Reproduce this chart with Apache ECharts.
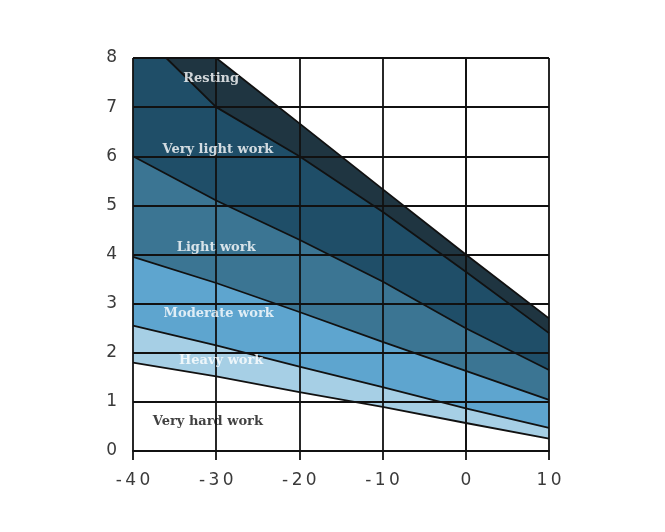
<!DOCTYPE html>
<html>
<head>
<meta charset="utf-8">
<script src="https://cdn.jsdelivr.net/npm/echarts@6/dist/echarts.min.js"></script>
<style>html,body{margin:0;padding:0;background:#fff}#c{width:665px;height:532px}</style>
</head>
<body>
<div id="c"></div>
<script>
// Boundary lines (x = temperature, y = value)
var restingTop = [[-40, 8], [-30, 8], [-20, 6.67], [-10, 5.33], [0, 4.0], [10, 2.7]];
var veryLightTop = [[-40, 8], [-36, 8], [-30, 7.0], [-20, 6.0], [-10, 4.87], [0, 3.65], [10, 2.4]];
var lightTop = [[-40, 6.0], [-30, 5.1], [-20, 4.3], [-10, 3.45], [0, 2.5], [10, 1.65]];
var moderateTop = [[-40, 3.95], [-30, 3.42], [-20, 2.83], [-10, 2.22], [0, 1.63], [10, 1.04]];
var heavyTop = [[-40, 2.55], [-30, 2.15], [-20, 1.72], [-10, 1.3], [0, 0.87], [10, 0.47]];
var veryHardTop = [[-40, 1.8], [-30, 1.52], [-20, 1.2], [-10, 0.9], [0, 0.57], [10, 0.25]];

var zoneNames = ['Resting', 'Very light work', 'Light work', 'Moderate work', 'Heavy work', 'Very hard work'];
var zoneLines = [restingTop, veryLightTop, lightTop, moderateTop, heavyTop, veryHardTop];
var zoneColors = ['#1f3541', '#1f4e68', '#3b7593', '#5ea5cf', '#a6cfe5', '#ffffff'];
var labelPos = [[-30.6, 7.57], [-29.8, 6.13], [-30, 4.15], [-29.7, 2.8], [-29.4, 1.83], [-31, 0.6]];
var labelColors = ['#ffffff', '#ffffff', '#ffffff', '#ffffff', '#ffffff', '#111111'];

var xTicks = [-40, -30, -20, -10, 0, 10];
var yTicks = [0, 1, 2, 3, 4, 5, 6, 7, 8];

var series = zoneLines.map(function (pts, i) {
  return {
    type: 'line',
    name: zoneNames[i],
    data: pts,
    symbol: 'none',
    silent: true,
    lineStyle: { color: '#111', width: 1.8 },
    areaStyle: { color: zoneColors[i], opacity: 1, origin: 'start' },
    z: 2 + i * 0.01
  };
});

series.push({
  type: 'scatter',
  symbolSize: 0,
  silent: true,
  z: 20,
  data: zoneNames.map(function (n, i) {
    return {
      value: labelPos[i],
      name: n,
      label: { color: labelColors[i] }
    };
  }),
  label: {
    show: true,
    position: 'inside',
    formatter: '{b}',
    fontFamily: 'DejaVu Serif',
    fontWeight: 'bold',
    fontSize: 13
  }
});

function spaced(v) {
  return String(v).split('').join('\u2009');
}

var chart = echarts.init(document.getElementById('c'));
chart.setOption({
  animation: false,
  backgroundColor: '#fff',
  grid: { left: 133, right: 116, top: 58, bottom: 81, containLabel: false },
  xAxis: {
    type: 'value',
    min: -40, max: 10, interval: 10,
    z: 10,
    axisLine: { show: true, onZero: false, lineStyle: { color: '#111', width: 1.8 } },
    axisTick: { show: true, length: 9, lineStyle: { color: '#111', width: 1.8 } },
    splitLine: { show: true, lineStyle: { color: '#111', width: 1.8 } },
    axisLabel: {
      color: '#3a3a3a', fontSize: 17, fontFamily: 'DejaVu Sans', margin: 21,
      formatter: function (v) { return xTicks.indexOf(v) >= 0 ? spaced(v) : ''; }
    }
  },
  yAxis: {
    type: 'value',
    min: 0, max: 8, interval: 1,
    z: 10,
    axisLine: { show: true, lineStyle: { color: '#111', width: 1.8 } },
    axisTick: { show: true, length: 8, lineStyle: { color: '#111', width: 1.8 } },
    splitLine: { show: true, lineStyle: { color: '#111', width: 1.8 } },
    axisLabel: {
      color: '#3a3a3a', fontSize: 17, fontFamily: 'DejaVu Sans', margin: 16,
      formatter: function (v) { return yTicks.indexOf(v) >= 0 ? String(v) : ''; }
    }
  },
  series: series
});
</script>
</body>
</html>
